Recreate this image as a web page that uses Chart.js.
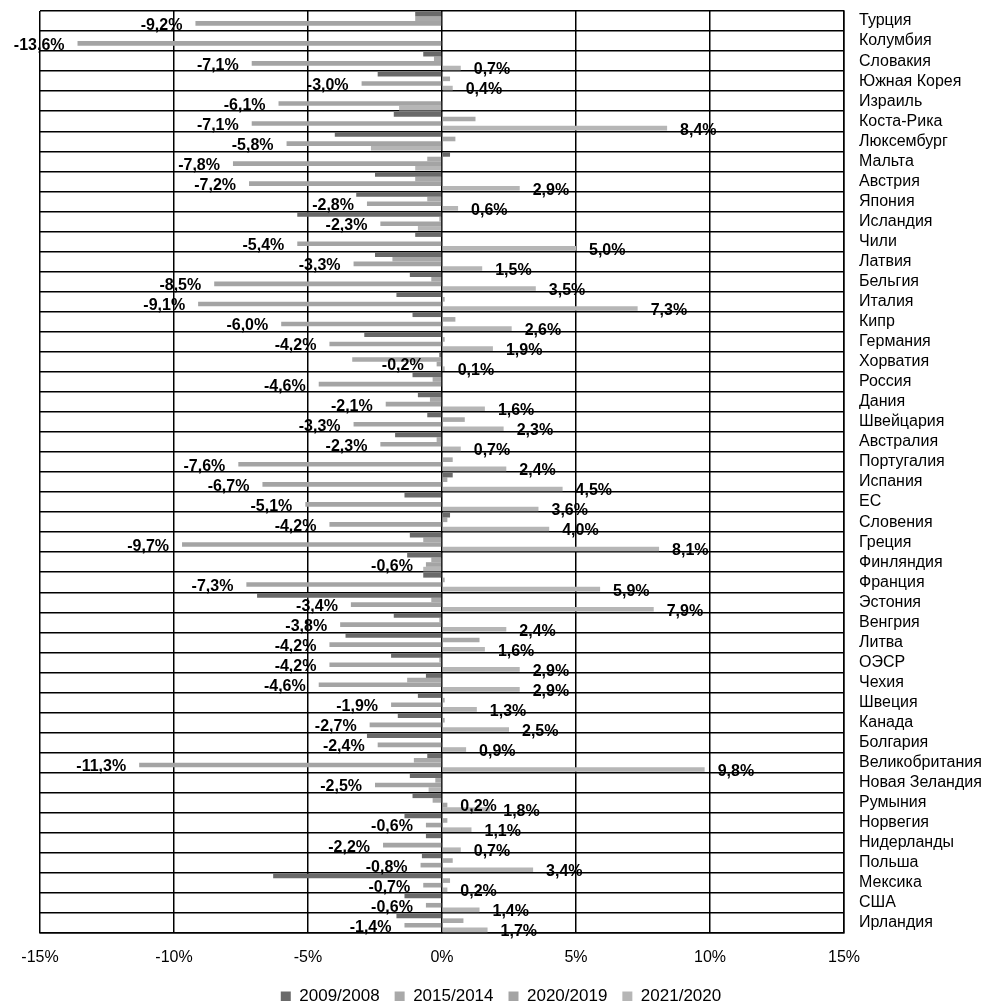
<!DOCTYPE html>
<html>
<head>
<meta charset="utf-8">
<script src="https://cdn.jsdelivr.net/npm/chart.js@4"></script>
<style>
html, body { margin: 0; padding: 0; background: #fff; }
</style>
</head>
<body>
<canvas id="growthChart" width="995" height="1001"></canvas>
<script>
var countries = ['Турция', 'Колумбия', 'Словакия', 'Южная Корея', 'Израиль', 'Коста-Рика',
    'Люксембург', 'Мальта', 'Австрия', 'Япония', 'Исландия', 'Чили', 'Латвия', 'Бельгия',
    'Италия', 'Кипр', 'Германия', 'Хорватия', 'Россия', 'Дания', 'Швейцария', 'Австралия',
    'Португалия', 'Испания', 'ЕС', 'Словения', 'Греция', 'Финляндия', 'Франция', 'Эстония',
    'Венгрия', 'Литва', 'ОЭСР', 'Чехия', 'Швеция', 'Канада', 'Болгария', 'Великобритания',
    'Новая Зеландия', 'Румыния', 'Норвегия', 'Нидерланды', 'Польша', 'Мексика', 'США', 'Ирландия'];

var seriesNames = ['2009/2008', '2015/2014', '2020/2019', '2021/2020'];

var y2009 = [-1.0, null, -0.7, -2.4, null, -1.8, -4.0, 0.3, -2.5, -3.2, -5.4, -1.0, -2.5, -1.2,
    -1.7, -1.1, -2.9, -0.1, -1.1, -0.9, -0.55, -1.75, null, 0.4, -1.4, 0.3, -1.2, -1.3, -0.7, -6.9,
    -1.8, -3.6, -1.9, -0.6, -0.9, -1.65, -2.8, -0.55, -1.2, -1.1, -1.4, -0.6, -0.75, -6.3, -1.4, -1.7];

var y2015 = [-1.0, null, -0.3, 0.3, null, 1.25, 0.5, -0.55, -1.0, -0.55, -0.1, null, -1.85, -0.4,
    0.1, 0.5, 0.1, -3.35, -0.35, -0.45, 0.85, -0.2, 0.4, 0.2, null, 0.2, -0.7, -0.4, 0.1, -0.4,
    -0.1, 1.4, -0.1, -1.3, 0.1, 0.1, null, -1.05, -0.25, -0.35, 0.2, null, 0.4, 0.3, null, 0.8];

var y2020 = [-9.2, -13.6, -7.1, -3.0, -6.1, -7.1, -5.8, -7.8, -7.2, -2.8, -2.3, -5.4, -3.3, -8.5,
    -9.1, -6.0, -4.2, -0.2, -4.6, -2.1, -3.3, -2.3, -7.6, -6.7, -5.1, -4.2, -9.7, -0.6, -7.3, -3.4,
    -3.8, -4.2, -4.2, -4.6, -1.9, -2.7, -2.4, -11.3, -2.5, 0.2, -0.6, -2.2, -0.8, -0.7, -0.6, -1.4];

var y2021 = [null, null, 0.7, 0.4, -1.6, 8.4, -2.65, -1.0, 2.9, 0.6, -0.9, 5.0, 1.5, 3.5,
    7.3, 2.6, 1.9, 0.1, null, 1.6, 2.3, 0.7, 2.4, 4.5, 3.6, 4.0, 8.1, -0.7, 5.9, 7.9,
    2.4, 1.6, 2.9, 2.9, 1.3, 2.5, 0.9, 9.8, -0.5, 1.8, 1.1, 0.7, 3.4, 0.2, 1.4, 1.7];

var xTicks = [-15, -10, -5, 0, 5, 10, 15];

var barColors = ['#6a6a6a', '#a9a9a9', '#a4a4a4', '#b6b6b6'];
var fontFamily = '"Liberation Sans", Arial, sans-serif';

function fmtPct(v) {
    return v.toFixed(1).replace('.', ',') + '%';
}

// labels for 2020/2019 (all) and 2021/2020 (positive only)
var valueLabels = {
    id: 'valueLabels',
    afterLayout: function(chart) {
        // centre the legend a bit left, like the original
        chart.legend.right -= 33;
    },
    afterDatasetsDraw: function(chart) {
        var ctx = chart.ctx;
        ctx.save();
        ctx.font = 'bold 16px ' + fontFamily;
        ctx.fillStyle = '#000';
        ctx.textBaseline = 'middle';
        [2, 3].forEach(function(di) {
            var meta = chart.getDatasetMeta(di);
            var data = chart.data.datasets[di].data;
            meta.data.forEach(function(bar, i) {
                var v = data[i];
                if (v === null || v === undefined) return;
                if (di === 3 && v < 0) return;
                if (v < 0) {
                    ctx.textAlign = 'right';
                    ctx.fillText(fmtPct(v), bar.x - 13, bar.y + 2);
                } else {
                    ctx.textAlign = 'left';
                    ctx.fillText(fmtPct(v), bar.x + 13, bar.y + 2);
                }
            });
        });
        ctx.restore();
    }
};

var allSeries = [y2009, y2015, y2020, y2021];

var chart = new Chart(document.getElementById('growthChart').getContext('2d'), {
    type: 'bar',
    data: {
        labels: countries,
        datasets: allSeries.map(function(s, i) {
            return {
                label: seriesNames[i],
                data: s,
                backgroundColor: barColors[i],
                borderWidth: 0,
                categoryPercentage: 0.92,
                barPercentage: 1.0
            };
        })
    },
    options: {
        indexAxis: 'y',
        responsive: false,
        animation: false,
        layout: {
            padding: { left: 40, top: 11, right: 0, bottom: 0 }
        },
        scales: {
            x: {
                min: -15,
                max: 15,
                afterBuildTicks: function(scale) {
                    scale.ticks = xTicks.map(function(v) { return { value: v }; });
                },
                afterFit: function(scale) { scale.height = 40; },
                grid: { color: '#000', lineWidth: 1.5, drawTicks: false },
                border: { color: '#000', width: 1.5 },
                ticks: {
                    padding: 15,
                    color: '#000',
                    font: { family: fontFamily, size: 16 },
                    callback: function(v) { return v + '%'; }
                }
            },
            y: {
                position: 'right',
                afterFit: function(scale) { scale.width = 151; },
                grid: {
                    color: '#000', lineWidth: 1.5, offset: true,
                    drawTicks: true, tickLength: 15, tickColor: 'rgba(0,0,0,0)'
                },
                border: { color: '#000', width: 1.5 },
                ticks: {
                    padding: 0,
                    color: '#000',
                    autoSkip: false,
                    font: { family: fontFamily, size: 16 }
                }
            }
        },
        plugins: {
            legend: {
                position: 'bottom',
                maxHeight: 28,
                labels: {
                    boxWidth: 10,
                    boxHeight: 10,
                    padding: 15,
                    color: '#000',
                    font: { family: fontFamily, size: 17 }
                }
            },
            tooltip: { enabled: false }
        }
    },
    plugins: [valueLabels]
});
</script>
</body>
</html>
